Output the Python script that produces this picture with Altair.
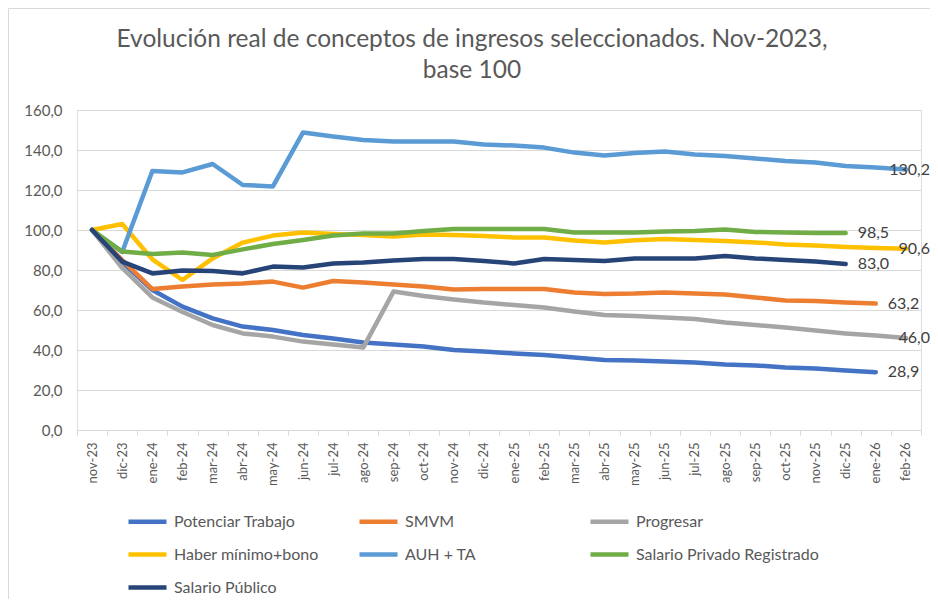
import altair as alt
import pandas as pd

months = ["nov-23", "dic-23", "ene-24", "feb-24", "mar-24", "abr-24", "may-24", "jun-24",
          "jul-24", "ago-24", "sep-24", "oct-24", "nov-24", "dic-24", "ene-25", "feb-25",
          "mar-25", "abr-25", "may-25", "jun-25", "jul-25", "ago-25", "sep-25", "oct-25",
          "nov-25", "dic-25", "ene-26", "feb-26"]

series_names = ["Potenciar Trabajo", "SMVM", "Progresar", "Haber mínimo+bono",
                "AUH + TA", "Salario Privado Registrado", "Salario Público"]
series_colors = ["#4472C4", "#ED7D31", "#A5A5A5", "#FFC000", "#5B9BD5", "#70AD47", "#264478"]

potenciar = [100, 84, 70, 61.7, 55.8, 51.7, 50, 47.5, 45.8, 43.8, 42.8, 41.7, 40, 39.2, 38.3,
             37.5, 36.2, 35, 34.8, 34.2, 33.7, 32.8, 32.3, 31.3, 30.7, 29.7, 28.9]
smvm = [100, 85, 70.5, 71.7, 72.8, 73.3, 74.2, 71.2, 74.5, 73.8, 72.8, 71.7, 70.3, 70.5, 70.5,
        70.5, 68.8, 68, 68.2, 68.8, 68.3, 67.8, 66.3, 64.7, 64.5, 63.7, 63.2]
progresar = [100, 81, 66.3, 59, 52.5, 48.3, 46.7, 44.2, 42.8, 41.3, 69.2, 67, 65.3, 63.7, 62.5,
             61.2, 59.2, 57.5, 57, 56.3, 55.5, 53.7, 52.5, 51.2, 49.7, 48.3, 47.2, 46.0]
haber = [100, 103, 85.3, 75, 85.8, 93.7, 97.2, 98.8, 98, 97.5, 96.7, 97.8, 97.5, 97, 96.3, 96.3,
         94.7, 93.7, 94.9, 95.5, 95, 94.5, 93.8, 92.8, 92.3, 91.5, 91.0, 90.6]
auh = [100, 89, 129.5, 128.8, 133, 122.5, 121.8, 148.8, 146.7, 145, 144.2, 144.2, 144.2, 142.8,
       142.2, 141.2, 138.7, 137.2, 138.5, 139.2, 137.8, 137, 135.8, 134.5, 133.7, 132, 131.2, 130.2]
privado = [100, 89.2, 88, 88.7, 87.5, 90.3, 93, 95, 97.2, 98.3, 98.3, 99.5, 100.5, 100.5, 100.5,
           100.5, 98.8, 98.7, 98.8, 99.2, 99.5, 100.3, 99, 98.8, 98.5, 98.5]
publico = [100, 84.2, 78.3, 79.7, 79.5, 78.3, 81.7, 81.2, 83.3, 83.7, 84.7, 85.5, 85.5, 84.5, 83.3,
           85.5, 85, 84.5, 85.7, 85.8, 85.8, 87, 85.8, 85, 84.2, 83.0]

y_ticks = [0, 20, 40, 60, 80, 100, 120, 140, 160]

all_values = [potenciar, smvm, progresar, haber, auh, privado, publico]
rows = []
for k, (name, vals) in enumerate(zip(series_names, all_values)):
    for i, v in enumerate(vals):
        rows.append({"mes": months[i], "serie": name, "valor": v, "k": k, "i": i})
df = pd.DataFrame(rows)

last = df.sort_values("i").groupby("serie").tail(1).copy()
last["etiqueta"] = last["valor"].map(lambda v: f"{v:.1f}".replace(".", ","))
last_mid = last[last["mes"] != months[-1]]
last_end = last[last["mes"] == months[-1]]

FONT = "Lato"
W, H = 844, 320

x_enc = alt.X("mes:N", sort=months, bandPosition=0.5,
              scale=alt.Scale(type="band", paddingInner=0, paddingOuter=0),
              axis=alt.Axis(title=None, labelAngle=-90, labelAlign="right", labelBaseline="middle",
                            labelFont=FONT, labelFontSize=13, labelColor="#595959",
                            labelPadding=7, tickBand="extent", tickSize=5, tickColor="#d9d9d9",
                            domainColor="#d9d9d9", grid=False, labelOverlap=False))
y_enc = alt.Y("valor:Q", scale=alt.Scale(domain=[0, 160], nice=False),
              axis=alt.Axis(title=None, values=y_ticks, tickCount=9, domain=False, ticks=False,
                            labelExpr="replace(format(datum.value, '.1f'), '.', ',')",
                            labelFont=FONT, labelFontSize=15, labelColor="#595959",
                            labelPadding=15, gridColor="#d9d9d9", gridWidth=1,
                            labelOverlap=False))

lines = alt.Chart(df).mark_line(strokeWidth=4.5, strokeCap="round", strokeJoin="round").encode(
    x=x_enc, y=y_enc,
    color=alt.Color("serie:N", sort=series_names,
                    scale=alt.Scale(domain=series_names, range=series_colors),
                    legend=alt.Legend(title=None, orient="none", legendX=49, legendY=390,
                                      direction="horizontal",
                                      columns=3, gridAlign="all", symbolType="stroke",
                                      symbolSize=1444, symbolStrokeWidth=4.5,
                                      labelFont=FONT, labelFontSize=16, labelColor="#595959",
                                      labelOffset=5, labelLimit=400, columnPadding=-8,
                                      rowPadding=2)),
    order=alt.Order("i:Q"),
)

labels_mid = alt.Chart(last_mid).mark_text(align="left", baseline="middle", dx=12,
                                           font=FONT, fontSize=16, color="#404040").encode(
    x=x_enc, y=y_enc, text="etiqueta:N")
labels_end = alt.Chart(last_end).mark_text(align="right", baseline="middle", dx=24,
                                           font=FONT, fontSize=16, color="#404040").encode(
    x=x_enc, y=y_enc, text="etiqueta:N")

border = alt.Chart(pd.DataFrame({"a": [0]})).mark_rect(
    fillOpacity=0, stroke="#d9d9d9", strokeWidth=1).encode(
    x=alt.value(-68.5), x2=alt.value(W + 40), y=alt.value(-101.5), y2=alt.value(H + 200))

chart = alt.layer(border, lines, labels_mid, labels_end).properties(
    width=W, height=H,
    autosize=alt.AutoSizeParams(type="none"),
    padding={"left": 69, "top": 102, "right": 9, "bottom": 169},
    title=alt.TitleParams(["Evolución real de conceptos de ingresos seleccionados. Nov-2023,", "base 100"],
                          font=FONT, fontSize=24.5, fontWeight="normal", color="#595959",
                          anchor="middle", frame="group", dx=-27, offset=-99,
                          baseline="bottom", lineHeight=31),
).configure_view(stroke=None).configure(background="white")

chart.save("out.html", embed_options={"renderer": "svg", "actions": False})
